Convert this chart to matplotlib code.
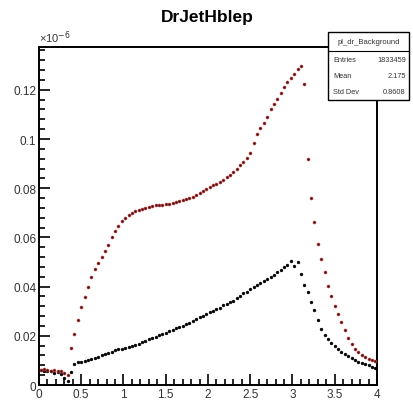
import numpy as np
import matplotlib
matplotlib.use("Agg")
import matplotlib.pyplot as plt
from matplotlib.ticker import MultipleLocator, FuncFormatter

plt.rcParams["font.family"] = ["Liberation Sans", "DejaVu Sans"]

# bin centres, 100 bins on [0, 4]
bin_centres = np.arange(100) * 0.04 + 0.02

# values in units of 1e-6
red_values = [
    0.0062, 0.0064, 0.0060, 0.0058, 0.0060, 0.0056, 0.0055, 0.0050, 0.0042, 0.0150,
    0.0207, 0.0264, 0.0318, 0.0358, 0.0398, 0.0440, 0.0470, 0.0495, 0.0520, 0.0545,
    0.0570, 0.0600, 0.0625, 0.0648, 0.0665, 0.0678, 0.0690, 0.0700, 0.0706, 0.0712,
    0.0716, 0.0720, 0.0724, 0.0728, 0.0730, 0.0732, 0.0731, 0.0734, 0.0736, 0.0738,
    0.0744, 0.0750, 0.0754, 0.0757, 0.0760, 0.0766, 0.0774, 0.0782, 0.0790, 0.0797,
    0.0805, 0.0812, 0.0818, 0.0825, 0.0834, 0.0844, 0.0855, 0.0867, 0.0880, 0.0894,
    0.0907, 0.0922, 0.0945, 0.0985, 0.1020, 0.1045, 0.1065, 0.1090, 0.1120, 0.1142,
    0.1162, 0.1185, 0.1210, 0.1230, 0.1248, 0.1265, 0.1285, 0.1298, 0.1224, 0.0919,
    0.0760, 0.0664, 0.0573, 0.0512, 0.0460, 0.0404, 0.0360, 0.0320, 0.0289, 0.0256,
    0.0222, 0.0192, 0.0166, 0.0148, 0.0133, 0.0122, 0.0113, 0.0106, 0.0101, 0.0097,
]

black_values = [
    0.0060, 0.0058, 0.0056, 0.0057, 0.0050, 0.0052, 0.0045, 0.0030, 0.0018, 0.0052,
    0.0086, 0.0092, 0.0094, 0.0097, 0.0100, 0.0106, 0.0110, 0.0114, 0.0120, 0.0124,
    0.0130, 0.0136, 0.0142, 0.0148, 0.0146, 0.0150, 0.0154, 0.0158, 0.0163, 0.0168,
    0.0174, 0.0180, 0.0186, 0.0191, 0.0196, 0.0202, 0.0208, 0.0213, 0.0219, 0.0224,
    0.0230, 0.0235, 0.0240, 0.0247, 0.0254, 0.0261, 0.0268, 0.0275, 0.0281, 0.0288,
    0.0295, 0.0302, 0.0309, 0.0315, 0.0324, 0.0330, 0.0336, 0.0343, 0.0352, 0.0362,
    0.0372, 0.0380, 0.0390, 0.0398, 0.0407, 0.0415, 0.0424, 0.0432, 0.0440, 0.0449,
    0.0458, 0.0466, 0.0480, 0.0488, 0.0505, 0.0485, 0.0500, 0.0450, 0.0405, 0.0380,
    0.0336, 0.0305, 0.0266, 0.0228, 0.0205, 0.0185, 0.0170, 0.0157, 0.0145, 0.0133,
    0.0124, 0.0116, 0.0108, 0.0101, 0.0094, 0.0090, 0.0084, 0.0080, 0.0074, 0.0069,
]

stats_title = "pl_dr_Background"
stats_rows = [("Entries", "1833459"), ("Mean", "2.175"), ("Std Dev", "0.8608")]

fig = plt.figure(figsize=(4.14, 4.02), dpi=100)
ax = fig.add_axes([0.0942, 0.0398, 0.8164, 0.8408])

ax.plot(bin_centres, black_values, "o", ms=2.1, mfc="black", mec="black", mew=0.3, zorder=3)
ax.plot(bin_centres, red_values, "o", ms=2.1, mfc="#3a1010", mec="#c83a3a", mew=0.45, zorder=4)

ax.set_xlim(0, 4)
ax.set_ylim(0, 0.1374)

ax.xaxis.set_major_locator(MultipleLocator(0.5))
ax.xaxis.set_minor_locator(MultipleLocator(0.1))
ax.yaxis.set_major_locator(MultipleLocator(0.02))
ax.yaxis.set_minor_locator(MultipleLocator(0.004))
ax.xaxis.set_major_formatter(FuncFormatter(lambda v, p: "%g" % round(v, 3)))
ax.yaxis.set_major_formatter(FuncFormatter(lambda v, p: "%g" % round(v, 3)))

ax.tick_params(which="both", direction="in", width=1.2, colors="black", labelcolor="#333333",
               labelsize=8.5, top=False, right=False)
ax.tick_params(which="major", length=8, pad=2)
ax.tick_params(which="minor", length=4)
for s in ax.spines.values():
    s.set_linewidth(1.4)

fig.text(0.5, 0.957, "DrJetHblep", ha="center", va="center", fontsize=12.5, fontweight="bold")
fig.text(0.095, 0.886, "×10$^{-6}$", ha="left", va="bottom", fontsize=8, color="#333333")

# stats box
bx0, bx1 = 328 / 414, 409 / 414
by_top, by_sep, by_bot = 1 - 33 / 402, 1 - 52 / 402, 1 - 101 / 402
shadow = plt.Rectangle((bx0 + 0.003, by_bot - 0.003), bx1 - bx0, by_top - by_bot,
                       transform=fig.transFigure, facecolor="black", edgecolor="none", zorder=9)
box = plt.Rectangle((bx0, by_bot), bx1 - bx0, by_top - by_bot, transform=fig.transFigure,
                    facecolor="white", edgecolor="black", lw=1.0, zorder=10)
fig.patches.extend([shadow, box])
fig.add_artist(plt.Line2D([bx0, bx1], [by_sep, by_sep], transform=fig.transFigure,
                          color="black", lw=0.8, zorder=11))
fig.text((bx0 + bx1) / 2, (by_top + by_sep) / 2, stats_title, ha="center", va="center",
         fontsize=5.5, color="#333333", zorder=12)
row_h = (by_sep - by_bot) / len(stats_rows)
for i, (k, v) in enumerate(stats_rows):
    yy = by_sep - row_h * (i + 0.5)
    fig.text(bx0 + 0.012, yy, k, ha="left", va="center", fontsize=5.3, color="#333333", zorder=12)
    fig.text(bx1 - 0.008, yy, v, ha="right", va="center", fontsize=5.3, color="#333333", zorder=12)

fig.savefig("out.png", dpi=100, facecolor="white")
